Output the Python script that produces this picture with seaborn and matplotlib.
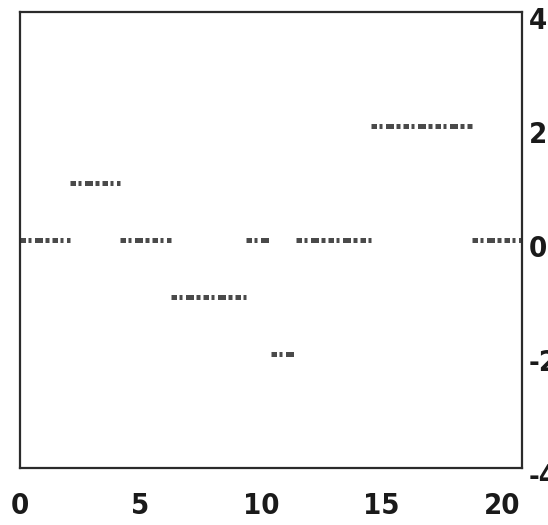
import matplotlib
matplotlib.use("Agg")
import matplotlib.pyplot as plt
import numpy as np
import pandas as pd
import seaborn as sns

# Piecewise-constant signal: each run has a start, an end and a level
seg_start = [0, 2, 4, 6, 9, 10, 11, 14, 18]
seg_end = [2, 4, 6, 9, 10, 11, 14, 18, 20]
seg_level = [0, 1, 0, -1, 0, -2, 0, 2, 0]

x_ticks = [0, 5, 10, 15, 20]
y_ticks = [4, 2, 0, -2, -4]

rows = []
for i, (a, b, v) in enumerate(zip(seg_start, seg_end, seg_level)):
    rows.append({"seg": i, "x": a, "y": v})
    rows.append({"seg": i, "x": b, "y": v})
df = pd.DataFrame(rows)

sns.set_style("white")
plt.rcParams["font.family"] = ["DejaVu Sans"]
LABEL_FONT = dict(family="DejaVu Sans", stretch="condensed", weight="bold",
                  size=21)

W, H, DPI = 548, 525, 100
fig = plt.figure(figsize=(W / DPI, H / DPI), dpi=DPI)
ax = fig.add_axes([20 / W, (H - 468) / H, (522 - 20) / W, (468 - 12) / H])

sns.lineplot(
    data=df, x="x", y="y", units="seg", estimator=None,
    color="#4a4a4a", linewidth=3.6,
    linestyle=(0, (1.1, 0.5, 0.6, 0.7, 1.6, 0.5, 0.8, 0.6)),
    legend=False, ax=ax,
)

ax.set_xlim(0, 20)
ax.set_ylim(-4, 4)
ax.set_xlabel("")
ax.set_ylabel("")
ax.set_xticks([])
ax.set_yticks([])
for s in ax.spines.values():
    s.set_color("#2b2b2b")
    s.set_linewidth(1.6)

# bottom labels sit on a slightly compressed scale
k = 0.96
sec = ax.secondary_xaxis("bottom", functions=(lambda x: x / k, lambda s: s * k))
sec.set_xticks(x_ticks)
sec.set_xticklabels([str(t) for t in x_ticks])
sec.spines["bottom"].set_visible(False)
sec.tick_params(length=0, pad=17, labelcolor="#1a1a1a")
for lab in sec.get_xticklabels():
    lab.set_fontproperties(LABEL_FONT)

# right-hand value labels
for v in y_ticks:
    ax.annotate(
        str(v), xy=(1, v), xycoords=ax.get_yaxis_transform(),
        xytext=(7, -9), textcoords="offset pixels",
        ha="left", va="center", color="#1a1a1a", annotation_clip=False,
        **{"fontfamily": LABEL_FONT["family"], "fontstretch": "condensed",
           "fontweight": "bold", "fontsize": LABEL_FONT["size"]},
    )

fig.savefig("out.png", dpi=DPI, facecolor="white")
